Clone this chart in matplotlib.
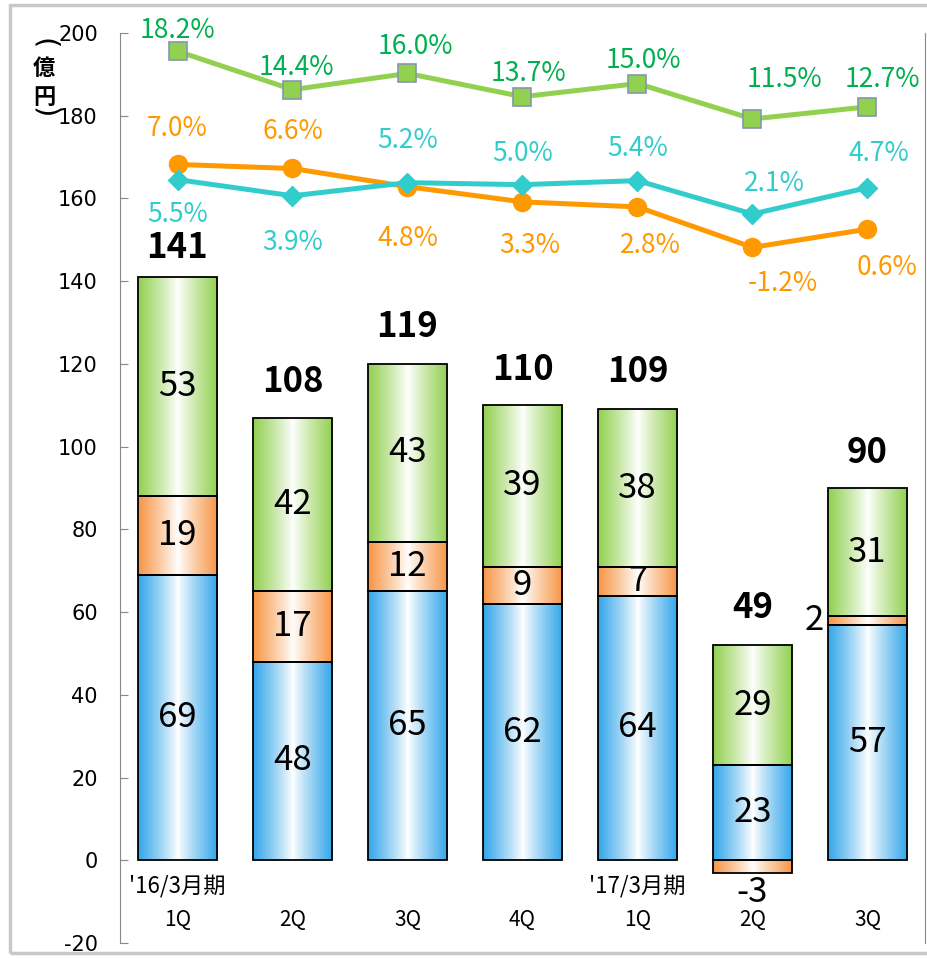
import numpy as np
import matplotlib.pyplot as plt
from matplotlib.colors import to_rgb
from matplotlib.patches import Rectangle

plt.rcParams['font.family'] = ['Noto Sans CJK JP', 'DejaVu Sans']
plt.rcParams['axes.unicode_minus'] = False

# データ
quarters = ["1Q", "2Q", "3Q", "4Q", "1Q", "2Q", "3Q"]
period_labels = ["'16/3月期", "", "", "", "'17/3月期", "", ""]
blue_vals = [69, 48, 65, 62, 64, 23, 57]
orange_vals = [19, 17, 12, 9, 7, -3, 2]
green_vals = [53, 42, 43, 39, 38, 29, 31]
totals = [141, 108, 119, 110, 109, 49, 90]
green_pct = [18.2, 14.4, 16.0, 13.7, 15.0, 11.5, 12.7]
cyan_pct = [5.5, 3.9, 5.2, 5.0, 5.4, 2.1, 4.7]
orange_pct = [7.0, 6.6, 4.8, 3.3, 2.8, -1.2, 0.6]

# ラベル位置 (px, 上が正)
green_off = [(0, 21), (4, 22), (8, 27), (6, 23), (6, 23), (32, 39), (15, 27)]
orange_off = [(0, 36), (0, 37), (0, -52), (7, -44), (13, -39), (30, -36), (20, -38)]
cyan_off = [(0, -35), (0, -47), (0, 42), (0, 31), (0, 32), (22, 30), (11, 34)]
total_off = [30, 36, 37, 36, 38, 38, 36]

c_blue = "#34A6EA"
c_orange = "#F79646"
c_green = "#92D050"

fig = plt.figure(figsize=(9.28, 9.58), dpi=100)
fig.patches.append(Rectangle((10 / 928, 1 - 953 / 958), 930 / 928, 948 / 958,
                             transform=fig.transFigure, fill=False,
                             edgecolor="#C8C8C8", lw=2.5))
ax = fig.add_axes([120 / 928, 1 - 943 / 958, 805 / 928, 910 / 958])

x = np.arange(len(quarters))
w = 0.69
blue = np.array(blue_vals)
orange = np.array(orange_vals)
green = np.array(green_vals)
green_bottom = blue + np.clip(orange, 0, None)
orange_bottom = np.where(orange >= 0, blue, 0)


def grad_fill(bars, color):
    c = np.array(to_rgb(color))
    t = np.abs(np.linspace(-1, 1, 80)) ** 0.9
    img = (1 - t[:, None]) + t[:, None] * c
    img = img[None, :, :]
    for b in bars:
        x0, y0 = b.get_x(), b.get_y()
        im = ax.imshow(img, extent=(x0, x0 + b.get_width(), y0, y0 + b.get_height()),
                       aspect='auto', zorder=1, interpolation='bilinear')
        im.set_clip_path(b)


for vals, bot, col in [(blue, 0, c_blue), (orange, orange_bottom, c_orange),
                       (green, green_bottom, c_green)]:
    bars = ax.bar(x, vals, w, bottom=bot, facecolor='none', edgecolor='black',
                  lw=1.3, zorder=2)
    grad_fill(bars, col)

# セグメントラベル
fs = 25
for i in x:
    ax.text(i, blue[i] / 2, str(blue[i]), ha='center', va='center', fontsize=fs, zorder=3)
    ax.text(i, green_bottom[i] + green[i] / 2, str(green[i]), ha='center', va='center',
            fontsize=fs, zorder=3)
    if orange[i] < 0:
        ax.text(i, orange[i] - 0.5, str(orange[i]), ha='center', va='top', fontsize=fs)
    elif orange[i] < 5:
        ax.text(i - w / 2 - 0.03, orange_bottom[i] + orange[i] / 2, str(orange[i]),
                ha='right', va='center', fontsize=fs)
    else:
        ax.text(i, orange_bottom[i] + orange[i] / 2, str(orange[i]), ha='center',
                va='center', fontsize=fs, zorder=3)
    ax.annotate(str(totals[i]), (i, green_bottom[i] + green[i]),
                xytext=(0, total_off[i] * 0.72), textcoords='offset points',
                ha='center', va='center', fontsize=fs, fontweight='bold')
    ax.text(i, -14.5, quarters[i], ha='center', va='center', fontsize=15)
    if period_labels[i]:
        ax.text(i, -6.2, period_labels[i], ha='center', va='center', fontsize=16)

ax.set_xlim(-0.5, 6.5)
ax.set_ylim(-20, 200)
ax.set_yticks(np.arange(-20, 201, 20))
ax.tick_params(axis='y', direction='in', length=6, color='#888888', pad=16)
for lab in ax.get_yticklabels():
    lab.set_fontfamily('DejaVu Sans')
    lab.set_fontsize(15)
ax.tick_params(axis='x', bottom=False, labelbottom=False)
for s in ['top', 'right', 'bottom']:
    ax.spines[s].set_visible(False)
ax.spines['left'].set_color('#888888')

# 単位 (縦書き)
for ch, ypx, rot, size in [("(", 44, -90, 21), ("億", 68, 0, 16),
                           ("円", 97, 0, 16), (")", 113, -90, 21)]:
    t = fig.text(44 / 928, 1 - ypx / 958, ch, ha='center', va='center',
                 fontsize=size, fontweight='bold', rotation=rot)
    if rot:
        t.set_fontfamily('DejaVu Sans')
        t.set_fontweight('normal')

# 折れ線 (第2軸)
ax2 = ax.twinx()
ax2.set_ylim(-70, 20)
ax2.set_yticks([])
for s in ['top', 'left', 'bottom']:
    ax2.spines[s].set_visible(False)
ax2.spines['right'].set_color('#888888')

ax2.plot(x, green_pct, color=c_green, lw=3.6, marker='s', ms=13,
         mfc=c_green, mec='#8497B0', mew=1.2, zorder=5)
ax2.plot(x, orange_pct, color='#FF9900', lw=3.6, marker='o', ms=13, zorder=4)
ax2.plot(x, cyan_pct, color='#33CCCC', lw=3.6, marker='D', ms=10, zorder=4)

for vals, offs, col in [(green_pct, green_off, '#00B050'),
                        (orange_pct, orange_off, '#FF9900'),
                        (cyan_pct, cyan_off, '#33CCCC')]:
    for i, v in enumerate(vals):
        dx, dy = offs[i]
        ax2.annotate(f"{v:.1f}%", (x[i], v), xytext=(dx * 0.72, dy * 0.72),
                     textcoords='offset points', ha='center', va='center',
                     fontsize=19, color=col)

plt.savefig("out.png", dpi=100)
